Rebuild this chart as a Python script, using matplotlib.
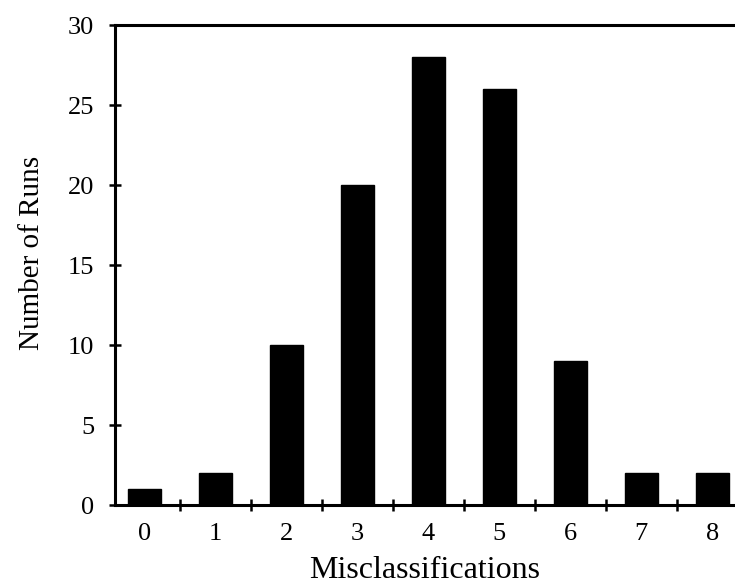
import matplotlib
matplotlib.use("Agg")
import matplotlib.pyplot as plt
import numpy as np

# data
misclassifications = [0, 1, 2, 3, 4, 5, 6, 7, 8]
runs = [1, 2, 10, 20, 28, 26, 9, 2, 2]
y_ticks = [0, 5, 10, 15, 20, 25, 30]

plt.rcParams['font.family'] = ['Liberation Serif', 'DejaVu Serif']

fig = plt.figure(figsize=(7.35, 5.86), dpi=100)
ax = fig.add_axes([0.1565, 0.138, 0.8435, 0.819])

x = np.array(misclassifications)
ax.bar(x, runs, width=0.46, color='black', edgecolor='black')

ax.set_xlim(-0.415, 8.32)
ax.set_ylim(0, 30)

# labels at the bar centres, tick marks between the bars
ax.set_xticks(x)
ax.set_xticklabels([str(v) for v in misclassifications])
ax.set_xticks(x[:-1] + 0.5, minor=True)
ax.tick_params(axis='x', which='major', length=0, pad=13, labelsize=19)
ax.tick_params(axis='x', which='minor', direction='inout', length=8, width=1.8)

ax.set_yticks(y_ticks)
ax.tick_params(axis='y', direction='inout', length=8, width=1.8, pad=11,
               labelsize=19)

for side in ['left', 'bottom', 'top']:
    ax.spines[side].set_linewidth(2.2)
ax.spines['right'].set_visible(False)

ax.set_xlabel('Misclassifications', fontsize=23, labelpad=8)
ax.set_ylabel('Number of Runs', fontsize=21)
ax.yaxis.set_label_coords(-0.113, 0.525)

fig.savefig('out.png', dpi=100)
